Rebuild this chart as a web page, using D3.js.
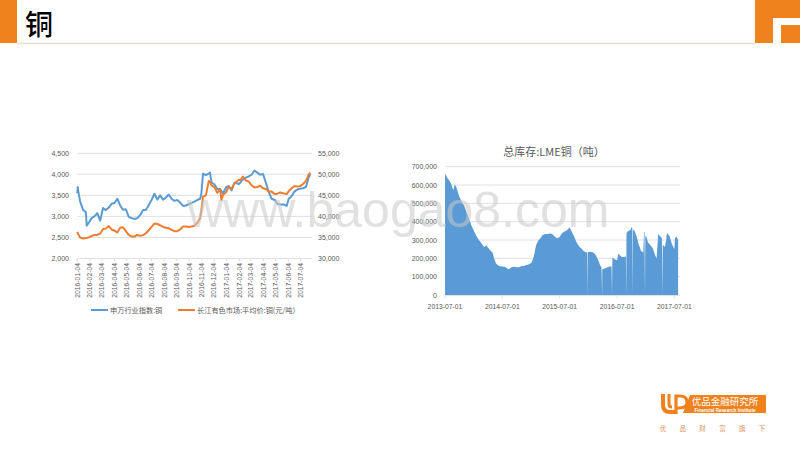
<!DOCTYPE html>
<html><head><meta charset="utf-8">
<script src="https://cdn.jsdelivr.net/npm/d3@7"></script>
<style>
html,body{margin:0;padding:0;background:#fff;}
svg{display:block;}
</style></head>
<body>
<svg id="c" width="800" height="450"></svg>
<script>
// ---------- DATA ----------
const pageTitle = "铜";
const leftSeriesNames = ["申万行业指数:铜", "长江有色市场:平均价:铜(元/吨）"];
const cuDates = ["2016-01-04","2016-01-05","2016-01-06","2016-01-11","2016-01-18","2016-01-25","2016-01-27","2016-02-01","2016-02-08","2016-02-15","2016-02-22","2016-02-29","2016-03-07","2016-03-14","2016-03-21","2016-03-28","2016-04-04","2016-04-11","2016-04-18","2016-04-25","2016-05-02","2016-05-09","2016-05-16","2016-05-23","2016-05-30","2016-06-06","2016-06-13","2016-06-20","2016-06-27","2016-07-04","2016-07-11","2016-07-18","2016-07-25","2016-08-01","2016-08-08","2016-08-15","2016-08-22","2016-08-29","2016-09-05","2016-09-12","2016-09-19","2016-09-26","2016-10-03","2016-10-10","2016-10-17","2016-10-24","2016-10-31","2016-11-03","2016-11-07","2016-11-14","2016-11-21","2016-11-24","2016-11-28","2016-12-05","2016-12-12","2016-12-19","2016-12-22","2016-12-26","2017-01-03","2017-01-09","2017-01-16","2017-01-23","2017-02-03","2017-02-06","2017-02-13","2017-02-20","2017-02-27","2017-03-06","2017-03-13","2017-03-20","2017-03-27","2017-04-03","2017-04-10","2017-04-17","2017-04-24","2017-05-02","2017-05-08","2017-05-15","2017-05-22","2017-05-31","2017-06-05","2017-06-12","2017-06-19","2017-06-26","2017-07-03","2017-07-10","2017-07-17","2017-07-24","2017-07-28"];
const swIndex = [3550,3700,3620,3350,3160,3100,2780,2850,2960,3000,3080,2900,3200,3150,3210,3300,3320,3420,3260,3160,3170,2990,2960,2940,2960,3030,3150,3150,3270,3390,3540,3400,3500,3400,3450,3520,3420,3370,3390,3330,3250,3260,3290,3320,3350,3390,3420,3550,4020,3980,4020,4040,3800,3760,3650,3650,3600,3550,3700,3720,3620,3800,3770,3800,3880,3920,3950,3990,4090,4040,3990,4010,3800,3580,3420,3390,3300,3280,3290,3250,3420,3480,3590,3640,3660,3670,3700,3930,4000];
const cjPrice = [36340,36100,35800,35000,34750,34850,34900,35000,35350,35600,35600,35900,37000,37100,37700,36900,36600,36200,37300,37400,36500,35600,35200,35200,35600,35400,35550,36000,36700,37500,38300,38200,37900,37500,37300,37200,36800,36500,36500,36900,37600,37600,37500,37600,37800,38500,39600,41500,44700,45000,48400,48300,47300,47000,45600,46400,43900,45100,45800,47100,46500,47900,48700,48600,49500,48500,48300,47400,46900,47000,47300,46700,46500,45900,45900,45300,45400,45700,45500,45300,46000,46700,47200,47100,47200,47700,48400,50000,50400];
const leftTicks = [2000,2500,3000,3500,4000,4500];
const rightTicks = [30000,35000,40000,45000,50000,55000];
const cuTickDates = ["2016-01-04","2016-02-04","2016-03-04","2016-04-04","2016-05-04","2016-06-04","2016-07-04","2016-08-04","2016-09-04","2016-10-04","2016-11-04","2016-12-04","2017-01-04","2017-02-04","2017-03-04","2017-04-04","2017-05-04","2017-06-04","2017-07-04"];

const lmeTitle = "总库存:LME铜（吨）";
const lmeDates = ["2013-07-01","2013-07-15","2013-08-01","2013-08-12","2013-08-22","2013-09-01","2013-09-10","2013-09-15","2013-10-01","2013-10-15","2013-11-01","2013-11-15","2013-12-01","2013-12-15","2014-01-01","2014-01-15","2014-02-01","2014-02-15","2014-03-01","2014-03-10","2014-03-20","2014-04-01","2014-04-15","2014-05-01","2014-05-10","2014-05-20","2014-06-01","2014-06-15","2014-07-01","2014-07-15","2014-08-01","2014-08-10","2014-08-15","2014-09-01","2014-09-15","2014-10-01","2014-10-15","2014-11-01","2014-11-15","2014-12-01","2014-12-15","2015-01-01","2015-01-10","2015-01-20","2015-02-01","2015-02-15","2015-03-01","2015-03-15","2015-04-01","2015-04-15","2015-05-01","2015-05-15","2015-06-01","2015-06-15","2015-07-01","2015-07-15","2015-08-01","2015-08-15","2015-08-25","2015-09-01","2015-09-15","2015-10-01","2015-10-15","2015-11-01","2015-11-15","2015-12-01","2015-12-15","2015-12-24","2015-12-25","2015-12-28","2016-01-15","2016-02-01","2016-02-15","2016-03-01","2016-03-15","2016-03-24","2016-03-28","2016-03-29","2016-04-15","2016-05-01","2016-05-15","2016-05-27","2016-05-30","2016-06-01","2016-06-15","2016-07-01","2016-07-10","2016-07-20","2016-08-01","2016-08-15","2016-08-26","2016-08-29","2016-08-30","2016-09-05","2016-09-15","2016-09-25","2016-10-01","2016-10-06","2016-10-07","2016-10-10","2016-10-20","2016-11-01","2016-11-15","2016-12-01","2016-12-15","2016-12-20","2016-12-23","2016-12-26","2016-12-28","2017-01-03","2017-01-15","2017-02-01","2017-02-15","2017-03-01","2017-03-10","2017-03-20","2017-04-01","2017-04-13","2017-04-14","2017-04-18","2017-05-01","2017-05-10","2017-05-15","2017-06-01","2017-06-15","2017-07-01","2017-07-05","2017-07-15","2017-07-25"];
const lmeStock = [663000,640000,620000,600000,572000,603000,590000,578000,535000,510000,485000,452000,418000,382000,350000,325000,302000,286000,268000,262000,272000,258000,244000,230000,200000,175000,163000,157000,155000,154000,146000,140000,143000,153000,154000,151000,152000,158000,158000,163000,167000,174000,190000,220000,270000,298000,310000,328000,333000,333000,336000,333000,318000,310000,316000,336000,347000,352000,360000,369000,348000,320000,290000,268000,255000,240000,233000,232000,0,233000,236000,232000,220000,195000,162000,150000,0,140000,145000,151000,156000,155000,0,205000,195000,190000,228000,215000,207000,208000,212000,0,336000,345000,352000,355000,370000,365000,0,358000,350000,325000,280000,240000,232000,345000,340000,0,320000,320000,285000,270000,252000,215000,200000,333000,320000,310000,0,275000,262000,300000,340000,320000,280000,250000,312000,318000,300000];
const lmeTicks = [0,100000,200000,300000,400000,500000,600000,700000];
const lmeTickDates = ["2013-07-01","2014-07-01","2015-07-01","2016-07-01","2017-07-01"];

const watermark = "www.baogao8.com";
const logoName = "优品金融研究所";
const logoEn = "Financial Research Institute";
const logoSub = ["优","品","财","富","旗","下"];

// ---------- DRAW ----------
const svg = d3.select("#c");
const parse = d3.timeParse("%Y-%m-%d");
const fmtD = d3.timeFormat("%Y-%m-%d");
const fmtN = d3.format(",");
const ORANGE = "#F0821E";
const latin = "'Liberation Sans', Arial, sans-serif";
const cjk = "'Noto Sans CJK SC', sans-serif";

// header
svg.append("rect").attr("x",0).attr("y",0).attr("width",17).attr("height",43).attr("fill",ORANGE);
svg.append("line").attr("x1",17).attr("x2",755).attr("y1",43.5).attr("y2",43.5).attr("stroke","#eadfcf").attr("stroke-width",1.5);
svg.append("text").attr("x",25).attr("y",35).attr("font-family",cjk).attr("font-size",28).attr("font-weight",500).attr("fill","#000").text(pageTitle);
svg.append("rect").attr("x",755).attr("y",0).attr("width",45).attr("height",43).attr("fill",ORANGE);
svg.append("rect").attr("x",773).attr("y",18).attr("width",27).attr("height",25).attr("fill","#fff");
svg.append("rect").attr("x",781).attr("y",25).attr("width",19).attr("height",18).attr("fill",ORANGE);

// ---------- left chart ----------
const cuData = cuDates.map((d,i)=>({date:parse(d), sw:swIndex[i], cj:cjPrice[i]}));
const xL = d3.scaleTime().domain([parse("2016-01-04"), parse("2017-08-01")]).range([77.3, 312]);
const yL = d3.scaleLinear().domain([2000,4500]).range([258.5,153.3]);
const yR = d3.scaleLinear().domain([30000,55000]).range([258.5,153.3]);

const gL = svg.append("g");
gL.selectAll("line.grid").data(leftTicks).join("line")
  .attr("x1",77.3).attr("x2",312).attr("y1",d=>yL(d)).attr("y2",d=>yL(d))
  .attr("stroke","#d9d9d9").attr("stroke-width",0.8);
gL.selectAll("text.yl").data(leftTicks).join("text")
  .attr("x",69).attr("y",d=>yL(d)+2.5).attr("text-anchor","end")
  .attr("font-family",latin).attr("font-size",7).attr("fill","#595959").text(d=>fmtN(d));
gL.selectAll("text.yr").data(rightTicks).join("text")
  .attr("x",318).attr("y",d=>yR(d)+2.5).attr("text-anchor","start")
  .attr("font-family",latin).attr("font-size",7).attr("fill","#595959").text(d=>fmtN(d));
// x axis
const xTicks = cuTickDates.map(parse);
gL.append("g").selectAll("line").data(xTicks).join("line")
  .attr("x1",d=>xL(d)).attr("x2",d=>xL(d)).attr("y1",258.5).attr("y2",261.5)
  .attr("stroke","#d9d9d9").attr("stroke-width",0.8);
gL.append("g").selectAll("text").data(xTicks).join("text")
  .attr("transform",d=>`translate(${xL(d)+2.4},263) rotate(-90)`)
  .attr("text-anchor","end").attr("font-family",latin).attr("font-size",6.8).attr("fill","#595959")
  .text(d=>fmtD(d));

const lineSW = d3.line().x(d=>xL(d.date)).y(d=>yL(d.sw));
const lineCJ = d3.line().x(d=>xL(d.date)).y(d=>yR(d.cj));
gL.append("path").datum(cuData).attr("d",lineSW).attr("fill","none").attr("stroke","#5B9BD5").attr("stroke-width",2).attr("stroke-linejoin","round");
gL.append("path").datum(cuData).attr("d",lineCJ).attr("fill","none").attr("stroke","#ED7D31").attr("stroke-width",2).attr("stroke-linejoin","round");

// legend
const leg = [{x:91, c:"#5B9BD5", t:leftSeriesNames[0]},{x:178, c:"#ED7D31", t:leftSeriesNames[1]}];
leg.forEach(l=>{
  svg.append("line").attr("x1",l.x).attr("x2",l.x+17).attr("y1",310).attr("y2",310).attr("stroke",l.c).attr("stroke-width",2);
  svg.append("text").attr("x",l.x+19).attr("y",312.5).attr("font-family",cjk).attr("font-size",7.2).attr("fill","#595959").text(l.t);
});

// ---------- right chart ----------
const lmeData = lmeDates.map((d,i)=>({date:parse(d), v:lmeStock[i]}));
const xR2 = d3.scaleTime().domain([parse("2013-07-01"), parse("2017-08-06")]).range([445,680]);
const yR2 = d3.scaleLinear().domain([0,700000]).range([295,166.7]);
const gR = svg.append("g");
gR.selectAll("line.grid").data(lmeTicks.slice(1)).join("line")
  .attr("x1",445).attr("x2",680).attr("y1",d=>yR2(d)).attr("y2",d=>yR2(d))
  .attr("stroke","#d9d9d9").attr("stroke-width",0.8);
gR.selectAll("text.yl").data(lmeTicks).join("text")
  .attr("x",437).attr("y",d=>yR2(d)+2.5).attr("text-anchor","end")
  .attr("font-family",latin).attr("font-size",7).attr("fill","#595959").text(d=>fmtN(d));
const area = d3.area().x(d=>xR2(d.date)).y0(yR2(0)).y1(d=>yR2(d.v));
gR.append("path").datum(lmeData).attr("d",area).attr("fill","#5B9BD5");
gR.append("line").attr("x1",445).attr("x2",680).attr("y1",295.5).attr("y2",295.5).attr("stroke","#d9d9d9").attr("stroke-width",0.8);
const lTicks = lmeTickDates.map(parse);
gR.selectAll("line.t").data(lTicks).join("line")
  .attr("x1",d=>xR2(d)).attr("x2",d=>xR2(d)).attr("y1",295.5).attr("y2",298.5)
  .attr("stroke","#d9d9d9").attr("stroke-width",0.8);
gR.selectAll("text.xl").data(lTicks).join("text")
  .attr("x",d=>xR2(d)).attr("y",309).attr("text-anchor","middle")
  .attr("font-family",latin).attr("font-size",6.8).attr("fill","#595959").text(d=>fmtD(d));
svg.append("text").attr("x",554).attr("y",156).attr("text-anchor","middle")
  .attr("font-family",cjk).attr("font-size",11).attr("fill","#595959").text(lmeTitle);

// watermark
svg.append("text").attr("x",187).attr("y",227).attr("font-family",latin).attr("font-size",50)
  .attr("fill","#c8c8c8").attr("fill-opacity",0.55).text(watermark);

// ---------- logo ----------
const lg = svg.append("g");
// U
lg.append("path").attr("d","M663,394 L663,405 Q663,412 670,412 L676,412")
  .attr("fill","none").attr("stroke",ORANGE).attr("stroke-width",4);
lg.append("path").attr("d","M669,394 L669,404 Q669,407 672,407")
  .attr("fill","none").attr("stroke",ORANGE).attr("stroke-width",3);
// P
lg.append("path").attr("d","M676,414 L676,396 L680,396 Q687,396 687,402 Q687,408 680,408 L676,408")
  .attr("fill","none").attr("stroke",ORANGE).attr("stroke-width",3.2);
lg.append("path").attr("d","M690,395 L766,395 L766,413 L683,413 Z").attr("fill",ORANGE);
lg.append("text").attr("x",725).attr("y",405).attr("text-anchor","middle").attr("font-family",cjk).attr("font-size",9.5).attr("fill","#fff").text(logoName);
lg.append("text").attr("x",725).attr("y",411.5).attr("text-anchor","middle").attr("font-family",latin).attr("font-weight","bold").attr("font-size",4.6).attr("fill","#fff").text(logoEn);
lg.selectAll("text.sub").data(logoSub).join("text")
  .attr("x",(d,i)=>663+i*19.8).attr("y",430.5).attr("text-anchor","middle")
  .attr("font-family",cjk).attr("font-size",6.5).attr("fill","#e0925a").text(d=>d);
</script>
</body></html>
